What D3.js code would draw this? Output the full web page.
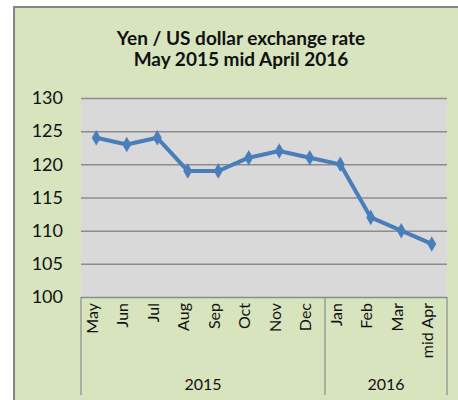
<!DOCTYPE html>
<html>
<head>
<meta charset="utf-8">
<script src="https://cdn.jsdelivr.net/npm/d3@7"></script>
<style>
  body { margin: 0; background: #fff; }
  text { font-family: Lato, "Noto Sans", sans-serif; fill: #111; }
</style>
</head>
<body>
<script>
var months = ["May", "Jun", "Jul", "Aug", "Sep", "Oct", "Nov", "Dec", "Jan", "Feb", "Mar", "mid Apr"];
var rates = [124, 123, 124, 119, 119, 121, 122, 121, 120, 112, 110, 108];
var years = [{ name: "2015", from: 0, to: 8 }, { name: "2016", from: 8, to: 12 }];
var yTicks = [100, 105, 110, 115, 120, 125, 130];
var titleLines = ["Yen / US dollar exchange rate", "May 2015 mid April 2016"];

var width = 458, height = 400;
var plotLeft = 81, plotRight = 447, plotTop = 98, plotBottom = 297;

var svg = d3.select("body").append("svg")
    .attr("width", width)
    .attr("height", height);

// chart background + border (left/top edges visible)
svg.append("rect")
    .attr("x", 14).attr("y", 7)
    .attr("width", width).attr("height", height)
    .attr("fill", "#d7e4bd")
    .attr("stroke", "#858585")
    .attr("stroke-width", 2);

// title
svg.append("g").selectAll("text")
    .data(titleLines)
  .enter().append("text")
    .attr("x", 241)
    .attr("y", (d, i)=> 45 + i * 21)
    .attr("text-anchor", "middle")
    .style("font-size", "19px")
    .style("font-weight", "bold")
    .text((d)=> d);

var x = d3.scaleBand().domain(months).range([plotLeft, plotRight]);
var y = d3.scaleLinear().domain([100, 130]).range([plotBottom, plotTop]);

// plot area
svg.append("rect")
    .attr("x", plotLeft).attr("y", plotTop)
    .attr("width", plotRight - plotLeft).attr("height", plotBottom - plotTop)
    .attr("fill", "#d9d9d9");

// gridlines + y labels
var yAxis = svg.append("g")
    .attr("transform", "translate(" + plotLeft + ",0)")
    .call(d3.axisLeft(y).tickValues(yTicks).tickSize(-(plotRight - plotLeft)).tickPadding(18));
yAxis.select(".domain").remove();
yAxis.selectAll("line").attr("stroke", "#8c8c8c").attr("stroke-width", 1.5);
yAxis.selectAll("text")
    .style("font-size", "18px")
    .style("font-family", "Lato, 'Noto Sans', sans-serif")
    .attr("fill", "#111");

// category area lines
var cat = svg.append("g");
var sepX = [plotLeft, x(months[8]), plotRight];
cat.selectAll("line")
    .data(sepX)
  .enter().append("line")
    .attr("x1", (d)=> d).attr("x2", (d)=> d)
    .attr("y1", plotBottom).attr("y2", 395)
    .attr("stroke", "#8c8c8c")
    .attr("stroke-width", 1.2);

// month labels, rotated
cat.selectAll("text.month")
    .data(months)
  .enter().append("text")
    .attr("class", "month")
    .attr("transform", (d)=> "translate(" + (x(d) + x.bandwidth() / 2 - 4) + "," + (plotBottom + 6) + ") rotate(-90)")
    .attr("dy", "0.35em")
    .attr("text-anchor", "end")
    .style("font-size", "16px")
    .text((d)=> d);

// year labels
cat.selectAll("text.year")
    .data(years)
  .enter().append("text")
    .attr("class", "year")
    .attr("x", (d)=> (x(months[d.from]) + (d.to < months.length ? x(months[d.to]) : plotRight)) / 2)
    .attr("y", 390)
    .attr("text-anchor", "middle")
    .style("font-size", "16px")
    .text((d)=> d.name);

// series line
var line = d3.line()
    .x((d, i)=> x(months[i]) + x.bandwidth() / 2)
    .y((d)=> y(d));

svg.append("path")
    .datum(rates)
    .attr("fill", "none")
    .attr("stroke", "#4a7ebb")
    .attr("stroke-width", 4)
    .attr("stroke-linejoin", "round")
    .attr("d", line);

// diamond markers
var diamond = d3.symbol().type(d3.symbolDiamond).size(70);
svg.append("g").selectAll("path")
    .data(rates)
  .enter().append("path")
    .attr("transform", (d, i)=> "translate(" + (x(months[i]) + x.bandwidth() / 2) + "," + y(d) + ")")
    .attr("d", diamond)
    .attr("fill", "#4a7ebb");
</script>
</body>
</html>
